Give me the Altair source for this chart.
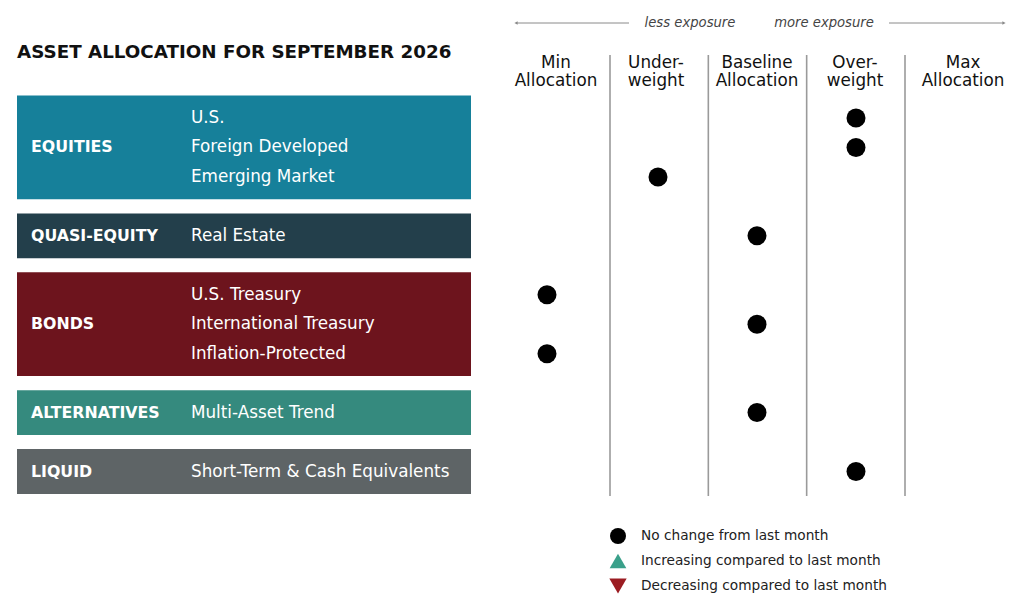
import altair as alt
import pandas as pd

# ---------------- data ----------------
title_text = "ASSET ALLOCATION FOR SEPTEMBER 2026"
groups = ["EQUITIES", "QUASI-EQUITY", "BONDS", "ALTERNATIVES", "LIQUID"]
group_colors = ["#16809A", "#233F4B", "#6D141D", "#358A7E", "#5E6466"]
assets = ["U.S.", "Foreign Developed", "Emerging Market", "Real Estate",
          "U.S. Treasury", "International Treasury", "Inflation-Protected",
          "Multi-Asset Trend", "Short-Term & Cash Equivalents"]
asset_group = ["EQUITIES", "EQUITIES", "EQUITIES", "QUASI-EQUITY",
               "BONDS", "BONDS", "BONDS", "ALTERNATIVES", "LIQUID"]
levels = ["Min\nAllocation", "Under-\nweight", "Baseline\nAllocation",
          "Over-\nweight", "Max\nAllocation"]
allocation = [3, 3, 1, 2, 0, 2, 0, 2, 3]          # index into levels
change = ["none"] * 9
change_keys = ["none", "up", "down"]
change_labels = ["No change from last month",
                 "Increasing compared to last month",
                 "Decreasing compared to last month"]
change_shapes = ["circle", "triangle-up", "triangle-down"]
change_colors = ["#000000", "#3AA08A", "#9B1C22"]
exposure_texts = ["less exposure", "more exposure"]

FONT = "DejaVu Sans"
W, H = 1009, 592


def P(v):
    return v - 8  # page pixel -> plot pixel


# ---------------- tables ----------------
rows = [i + groups.index(g) for i, g in enumerate(asset_group)]
df_assets = pd.DataFrame({"asset": assets, "group": asset_group, "row": rows,
                          "level": allocation, "change": change})
grp_rows = []
for g, c in zip(groups, group_colors):
    r = [rw for rw, ag in zip(rows, asset_group) if ag == g]
    grp_rows.append({"group": g, "color": c, "r0": min(r) - 0.76,
                     "r1": max(r) + 0.76, "rm": (min(r) + max(r)) / 2})
df_groups = pd.DataFrame(grp_rows)
df_levels = pd.DataFrame({"label": levels, "level": list(range(len(levels)))})
df_div = pd.DataFrame({"b": [i + 0.5 for i in range(len(levels) - 1)]})
df_leg = pd.DataFrame({"key": change_keys, "label": change_labels,
                       "i": list(range(3))})
one = pd.DataFrame({"a": [0]})

row_scale = alt.Scale(domain=[0, 12], range=[P(118), P(471.5)], nice=False, zero=False)
dot_x = alt.Scale(domain=[0, 1, 2, 3, 4], range=[P(547), P(658), P(757), P(856), P(963)],
                  nice=False, zero=False)
head_x = alt.Scale(domain=[0, 1, 2, 3, 4], range=[P(556), P(656), P(757), P(855), P(963)],
                   nice=False, zero=False)
div_x = alt.Scale(domain=[0.5, 3.5], range=[P(610), P(905)], nice=False, zero=False)
leg_y = alt.Scale(domain=[0, 2], range=[P(536), P(586)], nice=False, zero=False)
shape_scale = alt.Scale(domain=change_keys, range=change_shapes)
color_scale = alt.Scale(domain=change_keys, range=change_colors)
leg_size = alt.Scale(domain=change_keys, range=[256, 300, 300])

# ---------------- layers ----------------
title = alt.Chart(one).mark_text(
    text=title_text, font=FONT, fontSize=18.3, fontWeight="bold", color="#111111",
    align="left", baseline="middle"
).encode(x=alt.value(P(17)), y=alt.value(P(53)))

boxes = alt.Chart(df_groups).mark_rect().encode(
    x=alt.value(P(17)), x2=alt.value(P(471)),
    y=alt.Y("r0:Q", scale=row_scale, axis=None), y2="r1:Q",
    color=alt.Color("color:N", scale=None, legend=None),
)

group_text = alt.Chart(df_groups).mark_text(
    font=FONT, fontSize=15.8, fontWeight="bold", color="white",
    align="left", baseline="middle"
).encode(x=alt.value(P(31)), y=alt.Y("rm:Q", scale=row_scale, axis=None),
         text="group:N")

asset_text = alt.Chart(df_assets).mark_text(
    font=FONT, fontSize=16.8, color="white", align="left", baseline="middle"
).encode(x=alt.value(P(191)), y=alt.Y("row:Q", scale=row_scale, axis=None),
         text="asset:N")

headers = alt.Chart(df_levels).mark_text(
    font=FONT, fontSize=16.8, color="#111111", align="center", baseline="middle",
    lineBreak="\n", lineHeight=18
).encode(x=alt.X("level:Q", scale=head_x, axis=None), y=alt.value(P(63)),
         text="label:N")

dividers = alt.Chart(df_div).mark_rule(color="#9a9a9a", strokeWidth=1.6).encode(
    x=alt.X("b:Q", scale=div_x, axis=None), y=alt.value(P(55)), y2=alt.value(P(496)))

arrow_l = alt.Chart(one).mark_rule(color="#8a8a8a", strokeWidth=1).encode(
    x=alt.value(P(516)), x2=alt.value(P(629)), y=alt.value(P(23)))
arrow_r = alt.Chart(one).mark_rule(color="#8a8a8a", strokeWidth=1).encode(
    x=alt.value(P(889)), x2=alt.value(P(1004)), y=alt.value(P(23)))
head_l = alt.Chart(one).mark_point(shape="triangle-left", filled=True, size=14,
                                   color="#8a8a8a", opacity=1).encode(
    x=alt.value(P(516)), y=alt.value(P(23)))
head_r = alt.Chart(one).mark_point(shape="triangle-right", filled=True, size=14,
                                   color="#8a8a8a", opacity=1).encode(
    x=alt.value(P(1004)), y=alt.value(P(23)))
less_t = alt.Chart(one).mark_text(
    text=exposure_texts[0], font=FONT, fontSize=13.2, fontStyle="italic",
    color="#444444", align="center", baseline="middle"
).encode(x=alt.value(P(690)), y=alt.value(P(23)))
more_t = alt.Chart(one).mark_text(
    text=exposure_texts[1], font=FONT, fontSize=13.2, fontStyle="italic",
    color="#444444", align="center", baseline="middle"
).encode(x=alt.value(P(824)), y=alt.value(P(23)))

dots = alt.Chart(df_assets).mark_point(filled=True, size=361, opacity=1).encode(
    x=alt.X("level:Q", scale=dot_x, axis=None),
    y=alt.Y("row:Q", scale=row_scale, axis=None),
    shape=alt.Shape("change:N", scale=shape_scale, legend=None),
    color=alt.Color("change:N", scale=color_scale, legend=None),
)

leg_sym = alt.Chart(df_leg).mark_point(filled=True, opacity=1).encode(
    x=alt.value(P(618)),
    y=alt.Y("i:Q", scale=leg_y, axis=None),
    shape=alt.Shape("key:N", scale=shape_scale, legend=None),
    color=alt.Color("key:N", scale=color_scale, legend=None),
    size=alt.Size("key:N", scale=leg_size, legend=None),
)
leg_txt = alt.Chart(df_leg).mark_text(
    font=FONT, fontSize=13.7, color="#222222", align="left", baseline="middle"
).encode(x=alt.value(P(641)), y=alt.Y("i:Q", scale=leg_y, axis=None), text="label:N")

chart = alt.layer(
    boxes, group_text, asset_text, title, headers, dividers,
    arrow_l, arrow_r, head_l, head_r, less_t, more_t,
    dots, leg_sym, leg_txt
).resolve_scale(
    x="independent", y="independent", color="independent", shape="independent",
    size="independent"
).properties(
    width=W, height=H, padding=0, autosize=alt.AutoSizeParams(type="none"),
    background="white"
).configure_view(stroke=None)

chart.save("out.html", embed_options={"renderer": "svg", "actions": False})
